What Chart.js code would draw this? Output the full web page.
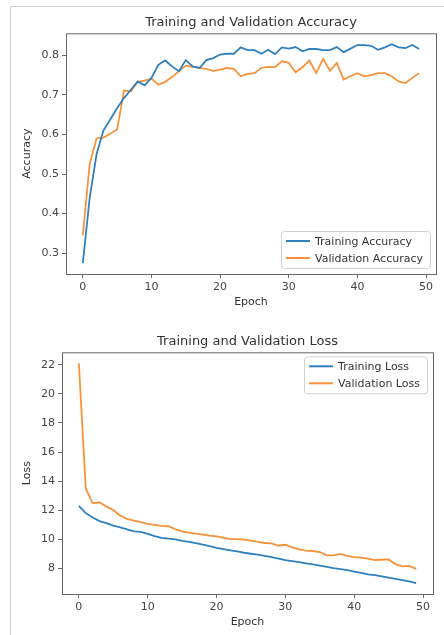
<!DOCTYPE html>
<html>
<head>
<meta charset="utf-8">
<script src="https://cdn.jsdelivr.net/npm/chart.js@4.4.1/dist/chart.umd.min.js"></script>
<style>
  body { margin: 0; background: #fff; }
  #moldura { position: absolute; left: 10px; top: 6px; width: 440px; height: 640px;
             border-left: 1px solid #cfcfcf; border-top: 1px solid #cfcfcf; }
  canvas { position: absolute; left: 0; }
  #graficoAcc { top: 0; }
  #graficoLoss { top: 315px; }
</style>
</head>
<body>
<div id="moldura"></div>
<canvas id="graficoAcc" width="444" height="315"></canvas>
<canvas id="graficoLoss" width="444" height="320"></canvas>
<script>
// dados
let epocas = Array.from({ length: 50 }, (_, i) => i);

let accTreino = [
  0.275, 0.44, 0.55, 0.61, 0.638, 0.667, 0.692, 0.713, 0.734, 0.724,
  0.743, 0.776, 0.787, 0.772, 0.76, 0.788, 0.772, 0.768, 0.788, 0.793,
  0.802, 0.804, 0.804, 0.82, 0.813, 0.813, 0.804, 0.814, 0.803, 0.82,
  0.817, 0.821, 0.81, 0.816, 0.816, 0.813, 0.813, 0.821, 0.808, 0.817,
  0.826, 0.826, 0.824, 0.814, 0.82, 0.828, 0.82, 0.818, 0.826, 0.816
];
let accValid = [
  0.345, 0.525, 0.59, 0.592, 0.602, 0.613, 0.711, 0.709, 0.733, 0.736,
  0.741, 0.726, 0.733, 0.745, 0.76, 0.774, 0.771, 0.768, 0.766, 0.76,
  0.764, 0.768, 0.766, 0.747, 0.753, 0.755, 0.768, 0.771, 0.77, 0.785,
  0.781, 0.757, 0.77, 0.787, 0.755, 0.791, 0.761, 0.781, 0.739, 0.747,
  0.755, 0.747, 0.75, 0.755, 0.755, 0.747, 0.734, 0.73, 0.743, 0.755
];

let lossTreino = [
  12.3, 11.8, 11.5, 11.25, 11.12, 10.95, 10.82, 10.68, 10.55, 10.52,
  10.38, 10.22, 10.1, 10.05, 10.0, 9.9, 9.82, 9.74, 9.64, 9.53,
  9.42, 9.33, 9.25, 9.17, 9.08, 9.01, 8.95, 8.87, 8.78, 8.68,
  8.58, 8.5, 8.43, 8.35, 8.28, 8.2, 8.11, 8.02, 7.96, 7.88,
  7.79, 7.69, 7.6, 7.54, 7.46, 7.37, 7.28, 7.2, 7.12, 7.0
];
let lossValid = [
  22.1, 13.5, 12.48, 12.55, 12.25, 12.02, 11.63, 11.4, 11.29, 11.18,
  11.07, 11.0, 10.93, 10.9, 10.7, 10.55, 10.46, 10.39, 10.32, 10.25,
  10.2, 10.11, 10.02, 10.02, 9.98, 9.91, 9.82, 9.75, 9.72, 9.56,
  9.63, 9.45, 9.31, 9.22, 9.2, 9.13, 8.9, 8.9, 9.0, 8.87,
  8.78, 8.74, 8.67, 8.58, 8.6, 8.62, 8.3, 8.14, 8.18, 7.97
];

// ticks dos eixos
let ticksEpoca = [0, 10, 20, 30, 40, 50];
let ticksAcc = [0.3, 0.4, 0.5, 0.6, 0.7, 0.8];
let ticksLoss = [8, 10, 12, 14, 16, 18, 20, 22];

// cores do matplotlib
let azul = "#2f80bd";
let laranja = "#f7923a";

Chart.defaults.font.family = "DejaVu Sans";
Chart.defaults.font.size = 11;
Chart.defaults.color = "#333";

// moldura completa em volta da área do gráfico
const moldura = {
  id: "moldura",
  afterDatasetsDraw(chart) {
    let a = chart.chartArea;
    let ctx = chart.ctx;
    ctx.save();
    ctx.strokeStyle = "#666";
    ctx.lineWidth = 1;
    ctx.strokeRect(a.left + 0.5, a.top + 0.5, a.right - a.left, a.bottom - a.top);
    ctx.restore();
  }
};

// legenda desenhada dentro da área
const legendaDentro = {
  id: "legendaDentro",
  afterDraw(chart, args, opts) {
    let ctx = chart.ctx;
    let a = chart.chartArea;
    let sets = chart.data.datasets;
    ctx.save();
    ctx.font = "11px 'DejaVu Sans'";
    let larguraTexto = Math.max(...sets.map(d => ctx.measureText(d.label).width));
    let w = 5 + 24 + 5 + larguraTexto + 7;
    let passo = 17;
    let h = passo * (sets.length - 1) + 20;
    let x = a.right - 6 - w;
    let y = opts.posicao === "baixo" ? a.bottom - 6 - h : a.top + 4;

    ctx.fillStyle = "rgba(255,255,255,0.85)";
    ctx.strokeStyle = "#d0d0d0";
    ctx.beginPath();
    ctx.roundRect(x + 0.5, y + 0.5, w, h, 3);
    ctx.fill();
    ctx.stroke();

    sets.forEach((d, i) => {
      let yy = y + 10 + i * passo;
      ctx.strokeStyle = d.borderColor;
      ctx.lineWidth = 2;
      ctx.beginPath();
      ctx.moveTo(x + 5, yy);
      ctx.lineTo(x + 29, yy);
      ctx.stroke();
      ctx.fillStyle = "#333";
      ctx.textBaseline = "middle";
      ctx.fillText(d.label, x + 34, yy + 1);
    });
    ctx.restore();
  }
};

// margem de 5% igual ao matplotlib
function limites(series) {
  let todos = series.flat();
  let lo = Math.min(...todos);
  let hi = Math.max(...todos);
  let m = (hi - lo) * 0.05;
  return [lo - m, hi + m];
}

function criarGrafico(id, titulo, rotuloY, nomes, serieA, serieB, ticksY, casas, cfg) {
  let ctx = document.getElementById(id).getContext("2d");
  let [yMin, yMax] = limites([serieA, serieB]);
  let [xMin, xMax] = limites([epocas]);

  return new Chart(ctx, {
    type: "line",
    data: {
      datasets: [
        {
          label: nomes[0],
          data: epocas.map((e, i) => ({ x: e, y: serieA[i] })),
          borderColor: azul,
          borderWidth: 1.8,
          pointRadius: 0,
          tension: 0
        },
        {
          label: nomes[1],
          data: epocas.map((e, i) => ({ x: e, y: serieB[i] })),
          borderColor: laranja,
          borderWidth: 1.8,
          pointRadius: 0,
          tension: 0
        }
      ]
    },
    options: {
      responsive: false,
      animation: false,
      devicePixelRatio: 1,
      layout: { padding: { left: 0, right: cfg.direita, top: 0, bottom: 0 } },
      plugins: {
        legend: { display: false },
        tooltip: { enabled: false },
        title: {
          display: true,
          text: titulo,
          fullSize: false,
          color: "#333",
          font: { size: 13, weight: "normal" },
          padding: { top: cfg.tituloTopo, bottom: cfg.tituloBase }
        },
        legendaDentro: { posicao: cfg.legenda }
      },
      scales: {
        x: {
          type: "linear",
          min: xMin,
          max: xMax,
          afterBuildTicks: s => { s.ticks = ticksEpoca.map(v => ({ value: v })); },
          afterFit: s => { s.height = 41; },
          ticks: { color: "#444", padding: 3, callback: v => String(v) },
          grid: { drawOnChartArea: false, drawTicks: true, tickLength: 4, color: "#666" },
          border: { display: false },
          title: { display: true, text: "Epoch", color: "#333", padding: { top: 2, bottom: cfg.epocaBase } }
        },
        y: {
          min: yMin,
          max: yMax,
          afterBuildTicks: s => { s.ticks = ticksY.map(v => ({ value: v })); },
          afterFit: s => { s.width = cfg.esquerda; },
          ticks: { color: "#444", padding: 3, callback: v => v.toFixed(casas) },
          grid: { drawOnChartArea: false, drawTicks: true, tickLength: 4, color: "#666" },
          border: { display: false },
          title: { display: true, text: rotuloY, color: "#333", padding: { top: 21, bottom: 0 } }
        }
      }
    },
    plugins: [moldura, legendaDentro]
  });
}

criarGrafico("graficoAcc", "Training and Validation Accuracy", "Accuracy",
  ["Training Accuracy", "Validation Accuracy"], accTreino, accValid, ticksAcc, 1,
  { esquerda: 66, direita: 8, tituloTopo: 14.7, tituloBase: 3, epocaBase: 6.5, legenda: "baixo" });

criarGrafico("graficoLoss", "Training and Validation Loss", "Loss",
  ["Training Loss", "Validation Loss"], lossTreino, lossValid, ticksLoss, 0,
  { esquerda: 62, direita: 11, tituloTopo: 18.9, tituloBase: 2.8, epocaBase: 5.8, legenda: "cima" });
</script>
</body>
</html>
